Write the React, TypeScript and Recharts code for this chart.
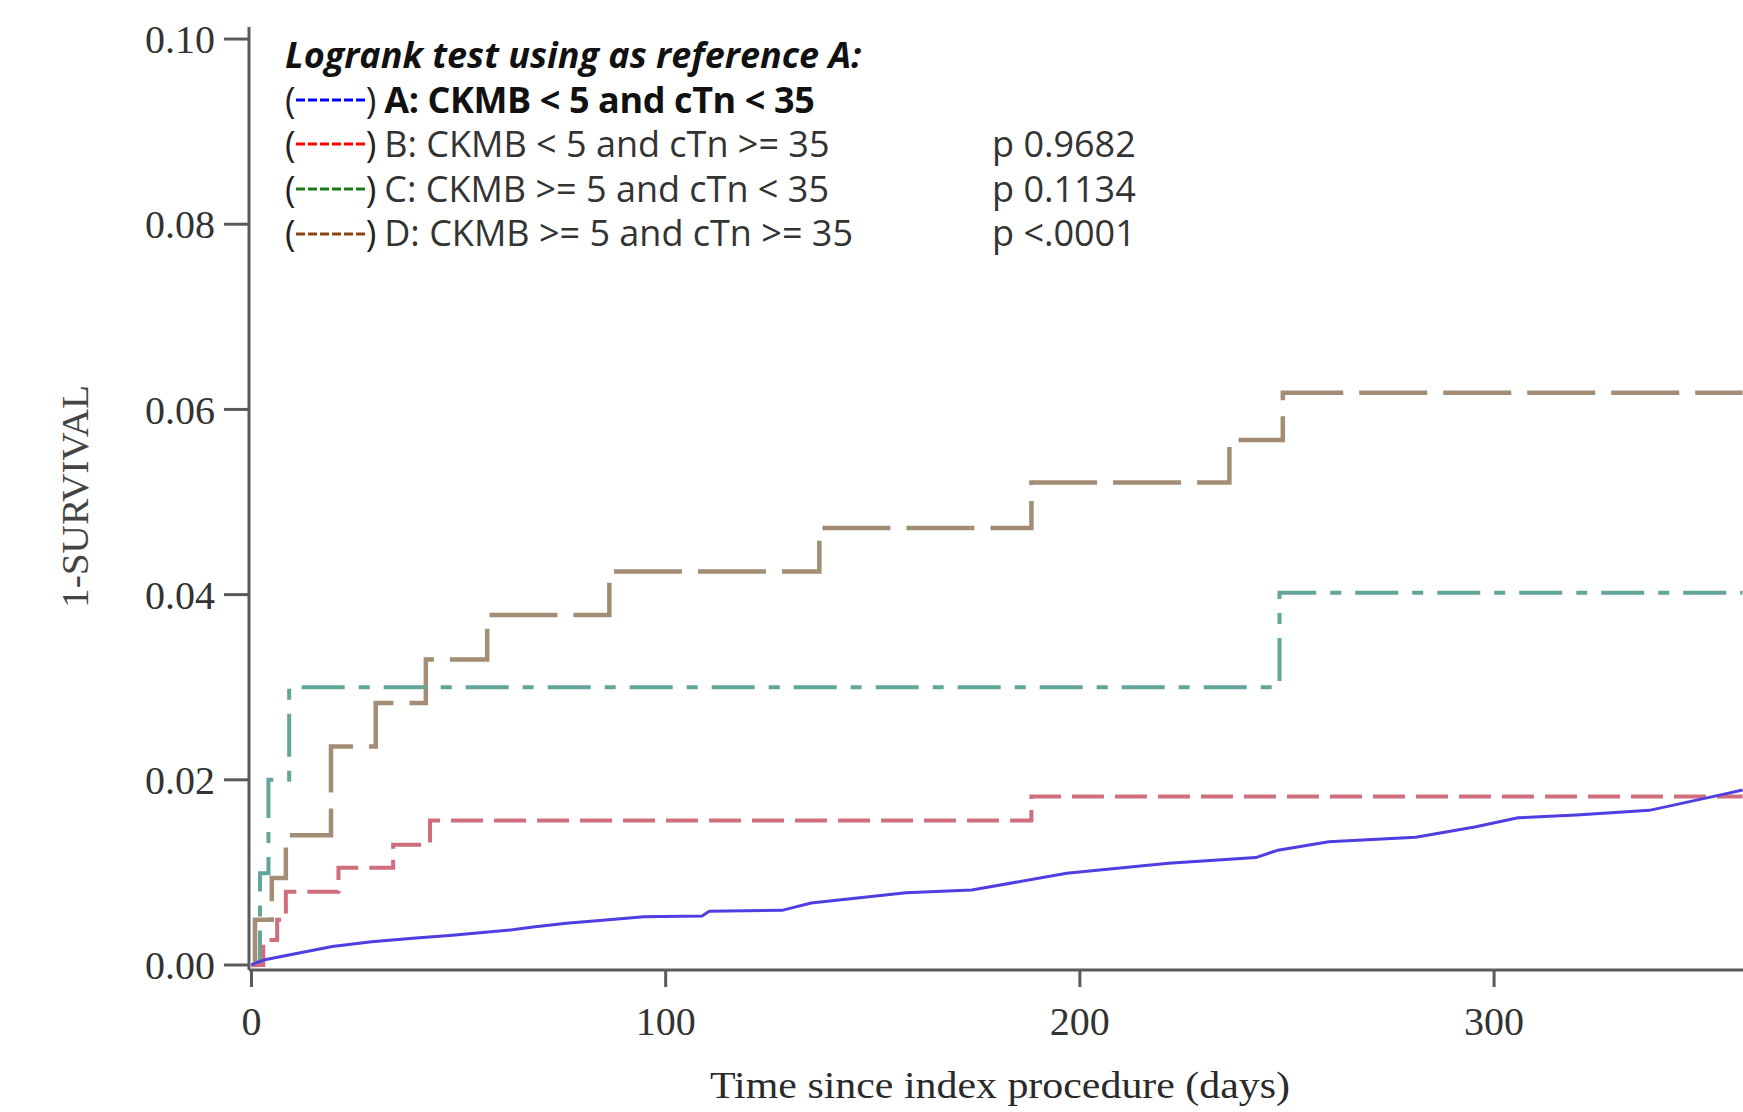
import React from 'react';
import { LineChart, Line, XAxis, YAxis, Label } from 'recharts';

// axis ticks
const xTicks = [0, 100, 200, 300];
const yTicks = [0, 0.02, 0.04, 0.06, 0.08, 0.1];

// A: CKMB < 5 and cTn < 35 (reference group)
const daysA = [0, 1.5, 3.5, 11.5, 19.5, 29, 39, 48.5, 63, 68, 76, 84.1, 94.7, 108.8, 110.5, 128.1, 135.1, 158, 173.9, 196.8, 221.4, 242.5, 247.8, 260.1, 281.1, 295.3, 305.8, 319.9, 337.5, 355, 360];
const riskA = [0, 0.0003, 0.0006, 0.0013, 0.002, 0.0025, 0.0029, 0.0032, 0.0038, 0.0041, 0.0045, 0.0048, 0.0052, 0.0053, 0.0058, 0.0059, 0.0067, 0.0078, 0.0081, 0.0099, 0.011, 0.0116, 0.0124, 0.0133, 0.0138, 0.0149, 0.0159, 0.0162, 0.0167, 0.0184, 0.0189];

// B: CKMB < 5 and cTn >= 35
const daysB = [0, 2.85, 6.2, 8.3, 21, 34.2, 43.1, 188.3, 360];
const riskB = [0, 0.0027, 0.0049, 0.0079, 0.0105, 0.013, 0.0156, 0.0182, 0.0182];

// C: CKMB >= 5 and cTn < 35
const daysC = [0, 2.05, 4.1, 9.1, 248.2, 360];
const riskC = [0, 0.0099, 0.02, 0.03, 0.0402, 0.0402];

// D: CKMB >= 5 and cTn >= 35
const daysD = [0, 0.85, 4.9, 8.3, 19.2, 30, 42.1, 56.9, 86.4, 137.1, 188.3, 236.1, 249, 360];
const riskD = [0, 0.0049, 0.0094, 0.014, 0.0236, 0.0283, 0.033, 0.0378, 0.0425, 0.0472, 0.0521, 0.0567, 0.0618, 0.0618];

const toRows = (days: number[], risk: number[]) => days.map((d, i) => ({ day: d, risk: risk[i] }));

const legendItems = [
  { label: 'A: CKMB < 5 and cTn < 35', p: '', color: '#0000ff', bold: true },
  { label: 'B: CKMB < 5 and cTn >= 35', p: 'p 0.9682', color: '#ff0000', bold: false },
  { label: 'C: CKMB >= 5 and cTn < 35', p: 'p 0.1134', color: '#1a7a1a', bold: false },
  { label: 'D: CKMB >= 5 and cTn >= 35', p: 'p <.0001', color: '#8b4513', bold: false },
];

const serif = "'Liberation Serif', 'Times New Roman', serif";
const axisColor = '#5a5a5a';

function LegendBox() {
  return (
    <div
      style={{
        position: 'absolute',
        left: 285,
        top: 33,
        fontFamily: "'Open Sans', sans-serif",
        fontSize: 36,
        lineHeight: '44.6px',
        color: '#222',
        whiteSpace: 'nowrap',
      }}
    >
      <div style={{ fontStyle: 'italic', fontWeight: 700, color: '#111' }}>
        Logrank test using as reference A:
      </div>
      {legendItems.map((item) => (
        <div key={item.label} style={{ position: 'relative', display: 'flex', alignItems: 'center', height: 44.6 }}>
          <span>(</span>
          <svg width={70} height={10}>
            <line x1={0} y1={5} x2={70} y2={5} stroke={item.color} strokeWidth={3} strokeDasharray="9 3" />
          </svg>
          <span>)</span>
          <span
            style={{
              marginLeft: 8,
              fontWeight: item.bold ? 700 : 400,
              letterSpacing: item.bold ? -0.4 : 0,
              color: item.bold ? '#111' : '#333',
            }}
          >
            {item.label}
          </span>
          {item.p && <span style={{ position: 'absolute', left: 707, color: '#333' }}>{item.p}</span>}
        </div>
      ))}
    </div>
  );
}

export default function App() {
  return (
    <div style={{ position: 'absolute', left: 0, top: 0, width: 1743, height: 1112, background: '#fff' }}>
      <LineChart width={1743} height={1112} margin={{ top: 27, right: 0, bottom: 0, left: 0 }}>
        <XAxis
          type="number"
          dataKey="day"
          domain={[-0.6, 360.1]}
          ticks={xTicks}
          allowDataOverflow
          height={142}
          tickSize={17}
          tickMargin={20}
          tick={{ fill: '#333', fontSize: 40, fontFamily: serif }}
          axisLine={{ stroke: axisColor, strokeWidth: 3 }}
          tickLine={{ stroke: axisColor, strokeWidth: 3 }}
        >
          <Label
            content={({ viewBox }: any) => (
              <text
                x={viewBox.x + viewBox.width / 2 + 4}
                y={1098}
                textAnchor="middle"
                fontFamily={serif}
                fontSize={38}
                fill="#2a2a2a"
                textLength={580}
                lengthAdjust="spacingAndGlyphs"
              >
                Time since index procedure (days)
              </text>
            )}
          />
        </XAxis>
        <YAxis
          type="number"
          domain={[-0.00054, 0.1013]}
          ticks={yTicks}
          allowDataOverflow
          width={249}
          tickSize={25}
          tickMargin={9}
          tickFormatter={(v: number) => v.toFixed(2)}
          tick={{ fill: '#333', fontSize: 40, fontFamily: serif }}
          axisLine={{ stroke: axisColor, strokeWidth: 3 }}
          tickLine={{ stroke: axisColor, strokeWidth: 3 }}
        >
          <Label
            content={({ viewBox }: any) => {
              const cx = 75;
              const cy = viewBox.y + viewBox.height / 2 - 2;
              return (
                <text
                  x={cx}
                  y={cy}
                  transform={`rotate(-90 ${cx} ${cy})`}
                  textAnchor="middle"
                  dominantBaseline="central"
                  fontFamily={serif}
                  fontSize={38}
                  fill="#444"
                  textLength={223}
                  lengthAdjust="spacingAndGlyphs"
                >
                  1-SURVIVAL
                </text>
              );
            }}
          />
        </YAxis>
        <Line
          data={toRows(daysD, riskD)}
          dataKey="risk"
          type="stepAfter"
          stroke="#a38e75"
          strokeWidth={4.5}
          strokeDasharray="68 16"
          dot={false}
          isAnimationActive={false}
        />
        <Line
          data={toRows(daysC, riskC)}
          dataKey="risk"
          type="stepAfter"
          stroke="#63a598"
          strokeWidth={4}
          strokeDasharray="43 14 11 14"
          dot={false}
          isAnimationActive={false}
        />
        <Line
          data={toRows(daysB, riskB)}
          dataKey="risk"
          type="stepAfter"
          stroke="#d06e7e"
          strokeWidth={4}
          strokeDasharray="32 11"
          dot={false}
          isAnimationActive={false}
        />
        <Line
          data={toRows(daysA, riskA)}
          dataKey="risk"
          type="linear"
          stroke="#4f3ee0"
          strokeWidth={3}
          dot={false}
          isAnimationActive={false}
        />
      </LineChart>
      <LegendBox />
    </div>
  );
}
